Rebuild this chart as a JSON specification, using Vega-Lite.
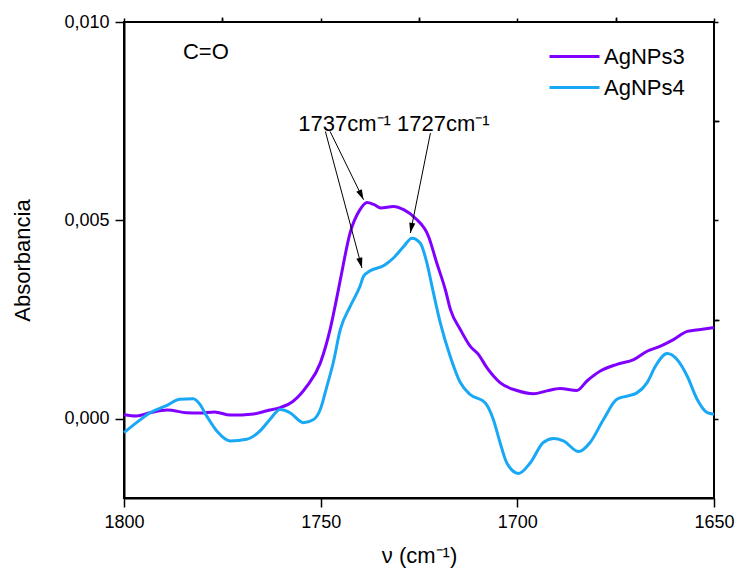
{
  "$schema": "https://vega.github.io/schema/vega-lite/v6.json",
  "width": 590,
  "height": 476,
  "autosize": {"type": "none"},
  "padding": {"left": 124, "top": 22, "right": 23, "bottom": 76},
  "background": "white",
  "config": {
    "view": {"stroke": "black", "strokeWidth": 2},
    "font": "Liberation Sans",
    "axis": {
      "grid": false,
      "domainColor": "black",
      "domainWidth": 2,
      "tickColor": "black",
      "tickWidth": 1.5,
      "labelFont": "Liberation Sans",
      "labelColor": "black",
      "labelFontSize": 18,
      "titleFont": "Liberation Sans",
      "titleFontWeight": "normal",
      "titleColor": "black",
      "titleFontSize": 22
    },
    "legend": {
      "labelFont": "Liberation Sans",
      "labelFontSize": 22,
      "labelColor": "black"
    }
  },
  "datasets": {
    "spectra": [
      {"nu": 1800, "A": 0.0001, "sample": "AgNPs3"},
      {"nu": 1796.8, "A": 0.00007, "sample": "AgNPs3"},
      {"nu": 1793.4, "A": 0.00015, "sample": "AgNPs3"},
      {"nu": 1789, "A": 0.00022, "sample": "AgNPs3"},
      {"nu": 1784.1, "A": 0.00015, "sample": "AgNPs3"},
      {"nu": 1780.7, "A": 0.00014, "sample": "AgNPs3"},
      {"nu": 1777, "A": 0.00017, "sample": "AgNPs3"},
      {"nu": 1773, "A": 0.00009, "sample": "AgNPs3"},
      {"nu": 1767, "A": 0.00012, "sample": "AgNPs3"},
      {"nu": 1763.7, "A": 0.0002, "sample": "AgNPs3"},
      {"nu": 1760.3, "A": 0.00028, "sample": "AgNPs3"},
      {"nu": 1757, "A": 0.00044, "sample": "AgNPs3"},
      {"nu": 1753.5, "A": 0.00082, "sample": "AgNPs3"},
      {"nu": 1750.1, "A": 0.0014, "sample": "AgNPs3"},
      {"nu": 1747.6, "A": 0.00225, "sample": "AgNPs3"},
      {"nu": 1746, "A": 0.003, "sample": "AgNPs3"},
      {"nu": 1745, "A": 0.0035, "sample": "AgNPs3"},
      {"nu": 1742.5, "A": 0.00469, "sample": "AgNPs3"},
      {"nu": 1740, "A": 0.00527, "sample": "AgNPs3"},
      {"nu": 1738.2, "A": 0.00545, "sample": "AgNPs3"},
      {"nu": 1736.5, "A": 0.0054, "sample": "AgNPs3"},
      {"nu": 1734.7, "A": 0.00531, "sample": "AgNPs3"},
      {"nu": 1731.5, "A": 0.00535, "sample": "AgNPs3"},
      {"nu": 1728.9, "A": 0.00527, "sample": "AgNPs3"},
      {"nu": 1726, "A": 0.00506, "sample": "AgNPs3"},
      {"nu": 1722.6, "A": 0.0046, "sample": "AgNPs3"},
      {"nu": 1720.5, "A": 0.00393, "sample": "AgNPs3"},
      {"nu": 1718.3, "A": 0.00325, "sample": "AgNPs3"},
      {"nu": 1717, "A": 0.00275, "sample": "AgNPs3"},
      {"nu": 1714.5, "A": 0.00225, "sample": "AgNPs3"},
      {"nu": 1712, "A": 0.00183, "sample": "AgNPs3"},
      {"nu": 1709.9, "A": 0.00162, "sample": "AgNPs3"},
      {"nu": 1707.7, "A": 0.00128, "sample": "AgNPs3"},
      {"nu": 1704.4, "A": 0.00091, "sample": "AgNPs3"},
      {"nu": 1700.1, "A": 0.00071, "sample": "AgNPs3"},
      {"nu": 1695.9, "A": 0.00063, "sample": "AgNPs3"},
      {"nu": 1692.5, "A": 0.0007, "sample": "AgNPs3"},
      {"nu": 1689.1, "A": 0.00076, "sample": "AgNPs3"},
      {"nu": 1684.9, "A": 0.00071, "sample": "AgNPs3"},
      {"nu": 1682.3, "A": 0.00095, "sample": "AgNPs3"},
      {"nu": 1678.9, "A": 0.0012, "sample": "AgNPs3"},
      {"nu": 1674.7, "A": 0.00137, "sample": "AgNPs3"},
      {"nu": 1670.4, "A": 0.00149, "sample": "AgNPs3"},
      {"nu": 1667, "A": 0.0017, "sample": "AgNPs3"},
      {"nu": 1663.6, "A": 0.00183, "sample": "AgNPs3"},
      {"nu": 1660.2, "A": 0.002, "sample": "AgNPs3"},
      {"nu": 1656.8, "A": 0.0022, "sample": "AgNPs3"},
      {"nu": 1653.4, "A": 0.00225, "sample": "AgNPs3"},
      {"nu": 1650, "A": 0.0023, "sample": "AgNPs3"},

      {"nu": 1800, "A": -0.00035, "sample": "AgNPs4"},
      {"nu": 1796.8, "A": -0.0001, "sample": "AgNPs4"},
      {"nu": 1793.4, "A": 0.00015, "sample": "AgNPs4"},
      {"nu": 1789.2, "A": 0.00033, "sample": "AgNPs4"},
      {"nu": 1785.8, "A": 0.00049, "sample": "AgNPs4"},
      {"nu": 1782.4, "A": 0.0005, "sample": "AgNPs4"},
      {"nu": 1780.7, "A": 0.00036, "sample": "AgNPs4"},
      {"nu": 1779, "A": 0.00007, "sample": "AgNPs4"},
      {"nu": 1776.4, "A": -0.00031, "sample": "AgNPs4"},
      {"nu": 1773, "A": -0.00056, "sample": "AgNPs4"},
      {"nu": 1768.8, "A": -0.00052, "sample": "AgNPs4"},
      {"nu": 1765.4, "A": -0.00031, "sample": "AgNPs4"},
      {"nu": 1762.9, "A": -0.00002, "sample": "AgNPs4"},
      {"nu": 1760.3, "A": 0.00023, "sample": "AgNPs4"},
      {"nu": 1757.8, "A": 0.00015, "sample": "AgNPs4"},
      {"nu": 1754.4, "A": -0.0001, "sample": "AgNPs4"},
      {"nu": 1751.8, "A": -0.00002, "sample": "AgNPs4"},
      {"nu": 1750.1, "A": 0.00023, "sample": "AgNPs4"},
      {"nu": 1748.4, "A": 0.00082, "sample": "AgNPs4"},
      {"nu": 1746.8, "A": 0.00141, "sample": "AgNPs4"},
      {"nu": 1745, "A": 0.00225, "sample": "AgNPs4"},
      {"nu": 1742.5, "A": 0.00283, "sample": "AgNPs4"},
      {"nu": 1740, "A": 0.00334, "sample": "AgNPs4"},
      {"nu": 1739.1, "A": 0.00359, "sample": "AgNPs4"},
      {"nu": 1738.3, "A": 0.00367, "sample": "AgNPs4"},
      {"nu": 1733.6, "A": 0.00388, "sample": "AgNPs4"},
      {"nu": 1731.5, "A": 0.00405, "sample": "AgNPs4"},
      {"nu": 1728.9, "A": 0.00434, "sample": "AgNPs4"},
      {"nu": 1726.8, "A": 0.00455, "sample": "AgNPs4"},
      {"nu": 1724.7, "A": 0.00443, "sample": "AgNPs4"},
      {"nu": 1723, "A": 0.00393, "sample": "AgNPs4"},
      {"nu": 1721.7, "A": 0.00334, "sample": "AgNPs4"},
      {"nu": 1719.6, "A": 0.00242, "sample": "AgNPs4"},
      {"nu": 1717.1, "A": 0.00158, "sample": "AgNPs4"},
      {"nu": 1714.5, "A": 0.00091, "sample": "AgNPs4"},
      {"nu": 1712, "A": 0.00061, "sample": "AgNPs4"},
      {"nu": 1708.2, "A": 0.0004, "sample": "AgNPs4"},
      {"nu": 1706.1, "A": -0.00002, "sample": "AgNPs4"},
      {"nu": 1704.4, "A": -0.0006, "sample": "AgNPs4"},
      {"nu": 1702.7, "A": -0.00111, "sample": "AgNPs4"},
      {"nu": 1699.7, "A": -0.00138, "sample": "AgNPs4"},
      {"nu": 1696.7, "A": -0.00111, "sample": "AgNPs4"},
      {"nu": 1693.4, "A": -0.0006, "sample": "AgNPs4"},
      {"nu": 1690.8, "A": -0.0005, "sample": "AgNPs4"},
      {"nu": 1688.3, "A": -0.00056, "sample": "AgNPs4"},
      {"nu": 1684.4, "A": -0.00083, "sample": "AgNPs4"},
      {"nu": 1681.5, "A": -0.0006, "sample": "AgNPs4"},
      {"nu": 1678.1, "A": -0.00002, "sample": "AgNPs4"},
      {"nu": 1674.7, "A": 0.00049, "sample": "AgNPs4"},
      {"nu": 1672.1, "A": 0.00057, "sample": "AgNPs4"},
      {"nu": 1669.6, "A": 0.00065, "sample": "AgNPs4"},
      {"nu": 1667, "A": 0.00091, "sample": "AgNPs4"},
      {"nu": 1664.9, "A": 0.00132, "sample": "AgNPs4"},
      {"nu": 1661.9, "A": 0.00164, "sample": "AgNPs4"},
      {"nu": 1659.4, "A": 0.00149, "sample": "AgNPs4"},
      {"nu": 1656.8, "A": 0.00107, "sample": "AgNPs4"},
      {"nu": 1654.3, "A": 0.00049, "sample": "AgNPs4"},
      {"nu": 1651.7, "A": 0.00015, "sample": "AgNPs4"},
      {"nu": 1650, "A": 0.00011, "sample": "AgNPs4"}
    ],
    "arrows": [
      {"id": "a1", "nu": 1747.6, "A": 0.00724, "nu2": 1739.1, "A2": 0.00552},
      {"id": "a2", "nu": 1748.8, "A": 0.00724, "nu2": 1739.5, "A2": 0.0038},
      {"id": "a3", "nu": 1722.1, "A": 0.0072, "nu2": 1727.2, "A2": 0.00468}
    ],
    "labels": [
      {"nu": 1779.2, "A": 0.00924, "text": "C=O", "kind": "center"},
      {"nu": 1755.7, "A": 0.00725, "text": "1737cm⁻¹", "kind": "left"},
      {"nu": 1730.6, "A": 0.00725, "text": "1727cm⁻¹", "kind": "left"}
    ]
  },
  "resolve": {"axis": {"x": "independent", "y": "independent"}},
  "layer": [
    {
      "data": {"name": "spectra"},
      "mark": {"type": "line", "strokeWidth": 3, "interpolate": "monotone"},
      "encoding": {
        "x": {
          "field": "nu", "type": "quantitative",
          "scale": {"domain": [1650, 1800], "reverse": true, "nice": false, "zero": false},
          "axis": {"values": [1800, 1750, 1700, 1650], "tickSize": 9, "labelPadding": 6, "format": "d", "title": "ν (cm⁻¹)", "titlePadding": 14, "labelFlush": false}
        },
        "y": {
          "field": "A", "type": "quantitative",
          "scale": {"domain": [-0.002, 0.01], "nice": false, "zero": false},
          "axis": {"values": [0, 0.005, 0.01], "tickSize": 9, "labelPadding": 6, "labelExpr": "replace(format(datum.value, '.3f'), '.', ',')", "title": "Absorbancia", "titlePadding": 29, "labelFlush": false}
        },
        "color": {
          "field": "sample", "type": "nominal",
          "scale": {"domain": ["AgNPs3", "AgNPs4"], "range": ["#8000FF", "#18A8F5"]},
          "legend": {
            "title": null, "orient": "none", "legendX": 439, "legendY": 23,
            "symbolType": "M-2.5,0L2.5,0", "symbolSize": 400, "symbolStrokeWidth": 3,
            "labelOffset": 18, "rowPadding": 8, "padding": 0
          }
        }
      }
    },
    {
      "data": {"name": "arrows"},
      "mark": {"type": "rule", "color": "black", "strokeWidth": 1},
      "encoding": {
        "x": {"field": "nu", "type": "quantitative",
          "axis": {"values": [1775, 1725, 1675], "tickSize": 5, "labels": false, "domain": false, "title": null}},
        "y": {"field": "A", "type": "quantitative",
          "axis": {"values": [0.0025, 0.0075], "tickSize": 5, "labels": false, "domain": false, "title": null}},
        "x2": {"field": "nu2"},
        "y2": {"field": "A2"}
      }
    },
    {
      "data": {"name": "arrows"},
      "transform": [{"filter": "datum.id === 'a1'"}],
      "mark": {"type": "point", "shape": "M0,0L-0.3,1L0.3,1Z", "filled": true, "color": "black", "size": 420, "angle": 154, "opacity": 1},
      "encoding": {
        "x": {"field": "nu2", "type": "quantitative",
          "axis": {"orient": "top", "values": [1800, 1775, 1750, 1725, 1700, 1675, 1650], "tickSize": 4, "labels": false, "domain": false, "title": null}},
        "y": {"field": "A2", "type": "quantitative",
          "axis": {"orient": "right", "values": [0, 0.0025, 0.005, 0.0075, 0.01], "tickSize": 4, "labels": false, "domain": false, "title": null}}
      }
    },
    {
      "data": {"name": "arrows"},
      "transform": [{"filter": "datum.id === 'a2'"}],
      "mark": {"type": "point", "shape": "M0,0L-0.3,1L0.3,1Z", "filled": true, "color": "black", "size": 420, "angle": 165, "opacity": 1},
      "encoding": {
        "x": {"field": "nu2", "type": "quantitative", "axis": null},
        "y": {"field": "A2", "type": "quantitative", "axis": null}
      }
    },
    {
      "data": {"name": "arrows"},
      "transform": [{"filter": "datum.id === 'a3'"}],
      "mark": {"type": "point", "shape": "M0,0L-0.3,1L0.3,1Z", "filled": true, "color": "black", "size": 420, "angle": 191, "opacity": 1},
      "encoding": {
        "x": {"field": "nu2", "type": "quantitative", "axis": null},
        "y": {"field": "A2", "type": "quantitative", "axis": null}
      }
    },
    {
      "data": {"name": "labels"},
      "transform": [{"filter": "datum.kind === 'center'"}],
      "mark": {"type": "text", "font": "Liberation Sans", "fontSize": 22, "color": "black", "align": "center", "baseline": "middle"},
      "encoding": {
        "x": {"field": "nu", "type": "quantitative", "axis": null},
        "y": {"field": "A", "type": "quantitative", "axis": null},
        "text": {"field": "text"}
      }
    },
    {
      "data": {"name": "labels"},
      "transform": [{"filter": "datum.kind === 'left'"}],
      "mark": {"type": "text", "font": "Liberation Sans", "fontSize": 22, "color": "black", "align": "left", "baseline": "alphabetic"},
      "encoding": {
        "x": {"field": "nu", "type": "quantitative", "axis": null},
        "y": {"field": "A", "type": "quantitative", "axis": null},
        "text": {"field": "text"}
      }
    }
  ]
}
